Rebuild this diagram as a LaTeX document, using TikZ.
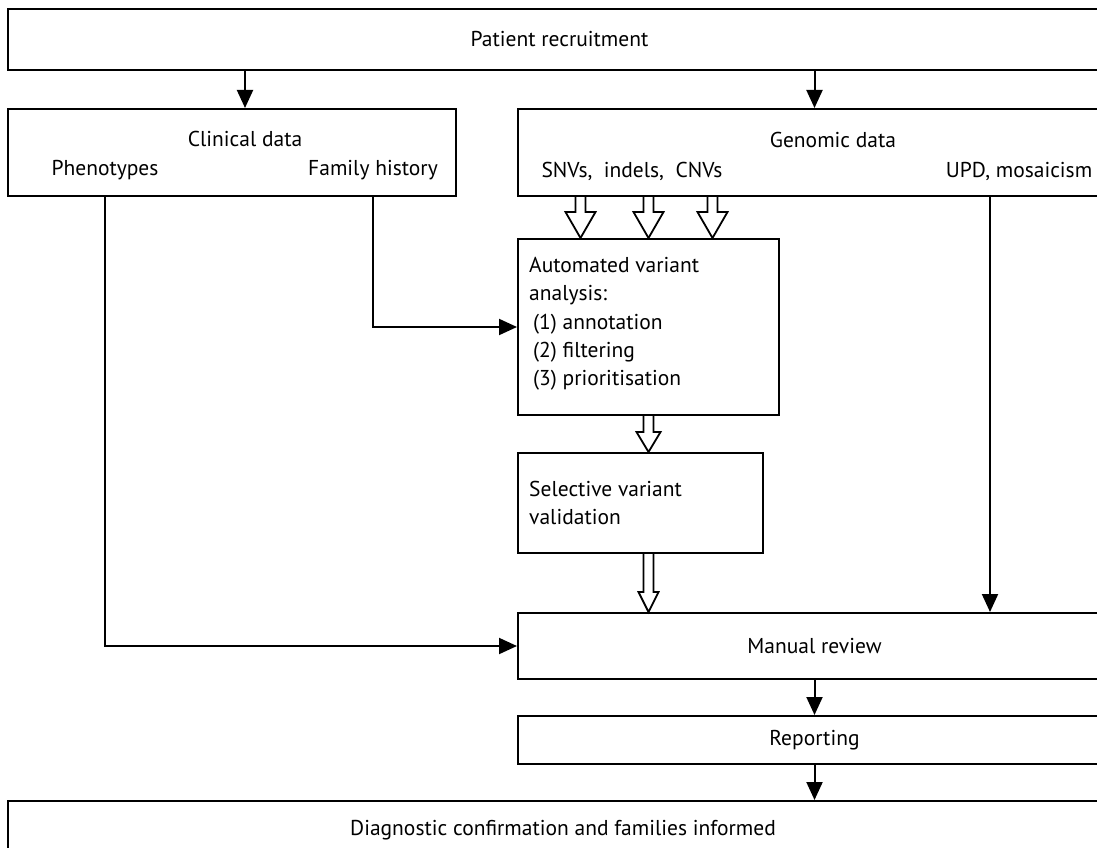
\documentclass[tikz,border=0pt]{standalone}
\usepackage{fontspec}
\setmainfont{PT Sans}
\usetikzlibrary{calc,arrows.meta}

\newcommand{\hollowarrow}[4]{%
  \draw[hollow] ($(#1)+(-5,0)$) -- ($(#2)+(-5,-#3)$) -- ($(#2)+(-#4,-#3)$) -- (#2)
    -- ($(#2)+(#4,-#3)$) -- ($(#2)+(5,-#3)$) -- ($(#1)+(5,0)$);}

\begin{document}
\begin{tikzpicture}[x=1pt,y=-1pt,
  box/.style={draw,line width=2pt,inner sep=0pt,anchor=north west},
  lbl/.style={font=\fontsize{21.5}{28.3}\selectfont,inner sep=0pt},
  arr/.style={line width=2pt,-{Triangle[length=18pt,width=16pt]}},
  hollow/.style={line width=1.8pt,line join=miter}]

  \useasboundingbox (0,0) rectangle (1097,848);
  \clip (0,0) rectangle (1097,848);

  \node[box,minimum width=1103pt,minimum height=61pt,lbl] (rec) at (7,8) {Patient recruitment};
  \node[box,minimum width=448pt,minimum height=87pt] (clin) at (7,108) {};
  \node[box,minimum width=593pt,minimum height=87pt] (gen) at (517,108) {};
  \node[box,minimum width=261pt,minimum height=176pt] (auto) at (517,238) {};
  \node[box,minimum width=245pt,minimum height=100pt] (sel) at (517,452) {};
  \node[box,minimum width=593pt,minimum height=66pt,lbl] (man) at (517,612) {Manual review};
  \node[box,minimum width=593pt,minimum height=48pt,lbl] (rep) at (517,715) {Reporting};
  \node[box,minimum width=1103pt,minimum height=70pt] (diag) at (7,800) {};

  \node[lbl] (clintitle) at (245,139) {Clinical data};
  \node[lbl] (pheno) at (105,170) {Phenotypes};
  \node[lbl] (famhist) at (373,170) {Family history};
  \node[lbl] (gentitle) at (833,140) {Genomic data};
  \node[lbl] (snv) at (632,171) {SNVs,\ \ indels,\ \ CNVs};
  \node[lbl] (upd) at (1019,171) {UPD, mosaicism};
  \node[lbl,anchor=north west,align=left] (autotext) at (529,257)
    {Automated variant\\analysis:\\\hspace{4pt}(1) annotation\\\hspace{4pt}(2) filtering\\\hspace{4pt}(3) prioritisation};
  \node[lbl,anchor=north west,align=left] (seltext) at (529,481) {Selective variant\\validation};
  \node[lbl] (diagtext) at (563,830) {Diagnostic confirmation and families informed};

  \coordinate (phenox) at (105,0);
  \coordinate (updx) at (990,0);
  \coordinate (in1) at ($(auto.north)+(-68,0)$);
  \coordinate (in2) at (auto.north);
  \coordinate (in3) at ($(auto.north)+(64,0)$);

  \draw[arr] (rec.south -| clintitle) -- (clin.north -| clintitle);
  \draw[arr] (rec.south -| man) -- (gen.north -| man);
  \draw[arr] (clin.south -| phenox) |- (man.west);
  \draw[arr] (clin.south -| famhist) |- (auto.west);
  \draw[arr] (gen.south -| updx) -- (man.north -| updx);
  \draw[arr] (man.south) -- (rep.north);
  \draw[arr] (rep.south) -- (diag.north -| rep.south);

  \hollowarrow{gen.south -| in1}{in1}{26}{15}
  \hollowarrow{gen.south -| in2}{in2}{26}{15}
  \hollowarrow{gen.south -| in3}{in3}{26}{15}
  \hollowarrow{auto.south}{sel.north -| auto.south}{20}{12}
  \hollowarrow{sel.south -| auto.south}{man.north -| auto.south}{20}{10}
\end{tikzpicture}
\end{document}
